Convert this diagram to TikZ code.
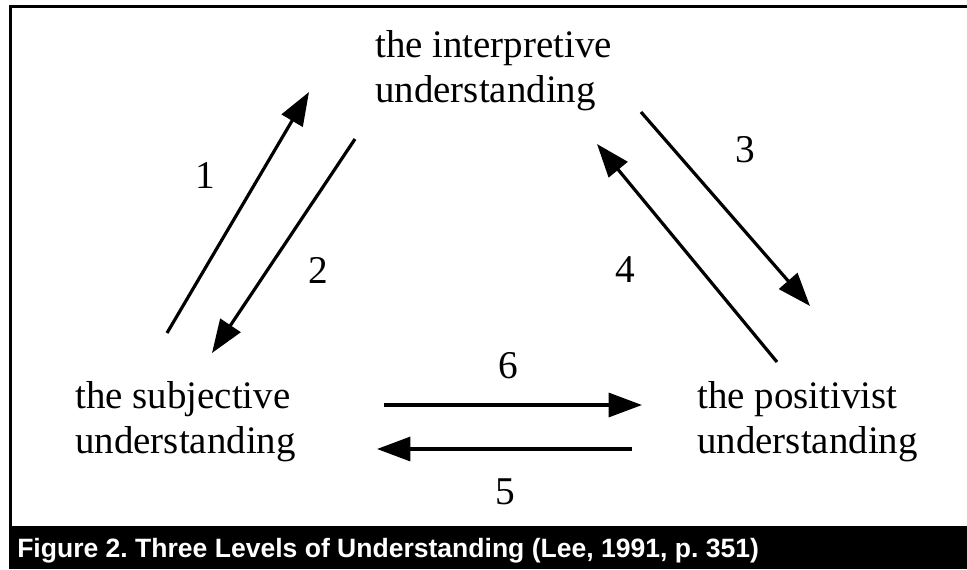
\documentclass[tikz,border=0pt]{standalone}
\usepackage{fontspec}
\setmainfont{Liberation Serif}
\newfontfamily\capfont{Liberation Sans}
\usetikzlibrary{arrows.meta}
\frenchspacing
\tikzset{
  lbl/.style={inner sep=0pt, align=left, anchor=base west, font=\fontsize{29.2}{33.75}\selectfont},
  num/.style={inner sep=0pt, font=\fontsize{29.5}{33}\selectfont},
  conn/.style={line width=2.4pt, -{Triangle[length=25pt,width=18pt]}},
}
\begin{document}
\begin{tikzpicture}[x=0.75pt,y=-0.75pt]
\useasboundingbox (0,0) rectangle (967,569);
\fill[white] (0,0) rectangle (967,569);
% frame
\draw[line width=2.25pt] (10.5,527) -- (10.5,6.5) -- (967,6.5);
\fill[black] (9,526) rectangle (967,569);
\node[anchor=base west, inner sep=0pt, text=white, font=\capfont\bfseries\fontsize{19.9}{20}\selectfont] (cap) at (17,557) {Figure 2. Three Levels of Understanding (Lee, 1991, p. 351)};
% nodes (anchor = baseline of last line)
\node[lbl] (top) at (375,102) {the interpretive\\understanding};
\node[lbl] (left) at (75,453) {the subjective\\understanding};
\node[lbl] (right) at (697,453) {the positivist\\understanding};
% arrow endpoints
\coordinate (a1s) at (167,333); \coordinate (a1e) at (309,92);
\coordinate (a2s) at (355,139); \coordinate (a2e) at (212,353);
\coordinate (a3s) at (641,112); \coordinate (a3e) at (810,306);
\coordinate (a4s) at (777,362); \coordinate (a4e) at (597,144);
\coordinate (a6s) at (384,405); \coordinate (a6e) at (642,405);
\coordinate (a5s) at (632,449); \coordinate (a5e) at (377,449);
\draw[conn] (a1s) -- (a1e);
\draw[conn] (a2s) -- (a2e);
\draw[conn] (a3s) -- (a3e);
\draw[conn] (a4s) -- (a4e);
\draw[conn] (a6s) -- (a6e);
\draw[conn] (a5s) -- (a5e);
% numbers
\node[num] (n1) at (205,176) {1};
\node[num] (n2) at (318,270) {2};
\node[num] (n3) at (745,150) {3};
\node[num] (n4) at (625,270) {4};
\node[num] (n6) at (508,366) {6};
\node[num] (n5) at (505,492) {5};
\end{tikzpicture}
\end{document}
